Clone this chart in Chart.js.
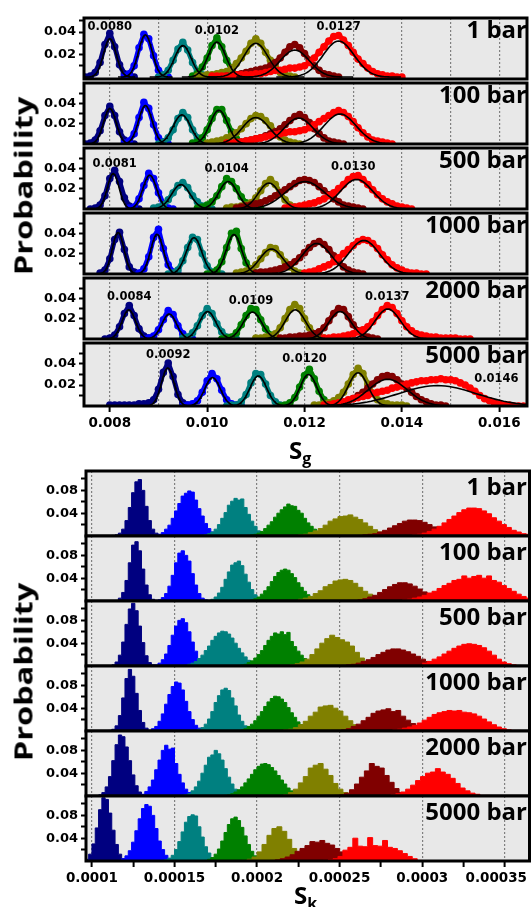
<!DOCTYPE html>
<html>
<head>
<meta charset="utf-8">
<script src="https://cdn.jsdelivr.net/npm/chart.js@4.4.1/dist/chart.umd.min.js"></script>
<style>
  html, body { margin: 0; padding: 0; background: #fff; overflow: hidden; }
  #fig { position: relative; width: 531px; height: 907px; }
  #fig canvas { position: absolute; left: 0; }
  .press { position: absolute; right: 4px; font: bold 24px/24px 'Open Sans', sans-serif; color: #000; white-space: nowrap; }
  .ytitle { position: absolute; left: 23px; font: bold 25px/25px 'Open Sans', sans-serif; white-space: nowrap;
            transform: translate(-50%, -50%) rotate(-90deg) scaleX(1.3); }
  .xtitle { position: absolute; font: bold 24px/24px 'Open Sans', sans-serif; white-space: nowrap; }
  .xtitle sub { font-size: 16px; vertical-align: -5px; }
</style>
</head>
<body>
<div id="fig"></div>
<script>
const pressures = ['1 bar', '100 bar', '500 bar', '1000 bar', '2000 bar', '5000 bar'];
const seriesColors = ['#000080', '#0000ff', '#008080', '#008000', '#808000', '#800000', '#ff0000'];

// ---- S_g panel: Gaussian fits (one row per pressure, one entry per colour)
const sgFitMean = [
  [0.00800, 0.00873, 0.00950, 0.01020, 0.01100, 0.01180, 0.01270],
  [0.00800, 0.00873, 0.00948, 0.01024, 0.01100, 0.01188, 0.01273],
  [0.00807, 0.00882, 0.00946, 0.01043, 0.01127, 0.01201, 0.01307],
  [0.00817, 0.00897, 0.00973, 0.01055, 0.01132, 0.01225, 0.01322],
  [0.00839, 0.00922, 0.01001, 0.01093, 0.01181, 0.01273, 0.01371],
  [0.00919, 0.01011, 0.01105, 0.01208, 0.01310, 0.01371, 0.01473]
];
const sgFitSigma = [
  [0.00013, 0.00014, 0.00017, 0.00018, 0.00025, 0.00030, 0.00032],
  [0.00013, 0.00014, 0.00018, 0.00018, 0.00028, 0.00030, 0.00033],
  [0.00012, 0.00014, 0.00019, 0.00019, 0.00022, 0.00040, 0.00033],
  [0.00012, 0.00013, 0.00016, 0.00016, 0.00024, 0.00030, 0.00032],
  [0.00014, 0.00015, 0.00017, 0.00019, 0.00021, 0.00023, 0.00026],
  [0.00013, 0.00016, 0.00017, 0.00017, 0.00020, 0.00040, 0.00080]
];
const sgFitPeak = [
  [0.0340, 0.0375, 0.0280, 0.0310, 0.0300, 0.0240, 0.0320],
  [0.0348, 0.0378, 0.0286, 0.0332, 0.0260, 0.0255, 0.0295],
  [0.0348, 0.0332, 0.0240, 0.0270, 0.0255, 0.0270, 0.0290],
  [0.0408, 0.0390, 0.0357, 0.0387, 0.0246, 0.0300, 0.0330],
  [0.0286, 0.0246, 0.0270, 0.0264, 0.0286, 0.0270, 0.0295],
  [0.0362, 0.0270, 0.0286, 0.0300, 0.0316, 0.0255, 0.0194]
];

// ---- S_g scatter: first bin in units of 1e-4 (bins 1e-4 apart), probabilities in units of 1e-3
const sgDotStart = [
  [75, 83, 90, 97, 98, 104, 101],
  [75, 83, 90, 97, 100, 106, 104],
  [76, 84, 89, 98, 104, 106, 116],
  [78, 86, 92, 100, 106, 110, 120],
  [79, 87, 95, 103, 110, 115, 124],
  [80, 95, 104, 115, 122, 125, 124]
];
const sgDotProb = [
  [
    [0,1,4,13,29,39,27,11,3,1,0],
    [1,3,10,26,38,34,19,6,2,0],
    [0,2,6,15,25,31,24,13,5,2,0],
    [1,3,9,17,28,35,27,15,7,2,1],
    [1,1,2,2,3,4,5,8,12,17,23,30,34,30,22,15,9,4,2,1,0],
    [1,1,2,3,4,5,6,7,8,10,13,17,22,27,29,26,21,15,10,6,3,2,1,0],
    [1,1,1,1,1,2,2,2,2,3,3,4,5,6,6,7,8,8,9,10,13,17,22,27,32,36,37,33,28,22,16,12,8,5,3,2,1,1,0,0]
  ],
  [
    [0,1,4,13,28,37,28,12,4,1,0],
    [1,3,10,26,41,35,19,6,2,0],
    [0,2,6,14,25,31,26,14,6,2,0],
    [1,2,6,14,25,34,34,23,12,5,1],
    [1,2,3,4,6,8,11,15,20,25,28,27,23,18,12,7,4,2,1,0],
    [1,2,3,4,5,6,8,10,12,15,19,23,27,29,26,21,15,10,6,3,2,1,0],
    [1,1,2,2,3,4,5,6,7,8,9,10,11,12,12,13,14,16,19,22,25,28,31,33,31,27,22,16,11,7,4,3,2,1,0]
  ],
  [
    [0,1,4,13,30,38,27,11,3,1,0],
    [1,2,10,23,35,30,16,5,1,0],
    [1,2,4,9,16,23,26,21,13,7,3,1,0],
    [1,2,4,7,13,22,30,27,20,12,6,3,1,0],
    [1,2,2,3,4,6,11,18,25,29,24,16,9,4,2,1,0],
    [1,2,3,4,5,6,8,10,13,16,19,22,25,28,29,28,26,22,18,14,10,7,4,3,2,1,0],
    [1,2,2,3,4,5,6,8,10,13,16,20,24,29,32,33,29,24,19,14,10,7,5,3,2,1,0]
  ],
  [
    [1,4,15,34,41,24,7,2,0],
    [1,5,17,36,44,25,9,2,0],
    [0,1,4,13,26,36,34,20,8,2,1,0],
    [0,1,4,12,26,40,42,25,11,4,1,0],
    [1,2,3,5,9,15,21,26,25,19,12,7,3,1,0],
    [1,2,2,3,4,5,7,9,12,16,21,26,30,32,29,24,18,12,7,4,2,1,0],
    [1,2,3,5,7,9,12,16,20,24,28,32,34,33,30,25,19,14,9,6,4,2,1,1,0,0]
  ],
  [
    [0,1,4,12,25,33,23,10,3,1,0],
    [0,1,3,9,19,28,24,13,5,1,0],
    [1,2,6,13,23,30,25,15,7,2,1,0],
    [0,1,2,6,14,23,30,29,19,10,4,1,0],
    [1,1,2,3,5,11,20,29,34,30,20,11,5,2,1,0],
    [1,1,2,2,3,3,4,5,7,11,18,25,30,29,22,14,8,4,2,1,0],
    [1,1,2,2,3,4,5,7,9,12,17,23,29,33,31,25,18,12,8,5,4,3,2,2,1,1,1,1,0,0,0]
  ],
  [
    [1,1,1,1,1,1,2,2,3,6,16,32,41,28,11,3,1,0],
    [0,1,2,5,13,24,31,26,15,6,2,1,0],
    [0,1,1,4,11,22,31,30,21,10,4,1,0],
    [0,1,3,8,18,29,35,26,14,6,2,1,0],
    [1,1,2,3,5,8,13,21,30,36,31,21,12,6,3,2,1,1,1,0],
    [1,1,2,3,5,7,10,13,17,21,25,28,29,28,25,21,17,13,9,6,4,2,1,1,0],
    [1,1,2,3,4,6,7,8,9,10,12,13,14,15,17,18,19,21,22,23,24,24,25,25,26,25,25,24,22,20,17,14,10,7,5,3,2,1,1,0,0,0]
  ]
];

// peak positions printed inside the S_g rows: [text, x, y]
const sgNotes = [
  [['0.0080', 0.0080, 0.0444], ['0.0102', 0.0102, 0.0410], ['0.0127', 0.0127, 0.0444]],
  [],
  [['0.0081', 0.0081, 0.0443], ['0.0104', 0.0104, 0.0396], ['0.0130', 0.0130, 0.0415]],
  [],
  [['0.0084', 0.0084, 0.0415], ['0.0109', 0.0109, 0.0378], ['0.0137', 0.0137, 0.0415]],
  [['0.0092', 0.0092, 0.0489], ['0.0120', 0.0120, 0.0452], ['0.0146', 0.01594, 0.0258]]
];

const sgXRange = [0.00747, 0.01657];
const sgXTicks = [0.008, 0.009, 0.010, 0.011, 0.012, 0.013, 0.014, 0.015, 0.016];
const sgXLabels = ['0.008', '', '0.010', '', '0.012', '', '0.014', '', '0.016'];
const sgYRange = [[-0.0017, 0.0525], [0, 0.06], [0, 0.06], [0, 0.06], [0, 0.06], [0, 0.06]];
const sgYTicks = [0.01, 0.02, 0.03, 0.04, 0.05];
const sgYLabels = ['', '0.02', '', '0.04', ''];

// ---- S_k panel: histograms, first bin edge and bin width in units of 1e-6, probabilities in units of 1e-3
const skBinWidth = [2, 2, 2, 2, 3, 3, 3];
const skBinStart = [
  [112, 138, 166, 194, 222, 261, 291],
  [112, 138, 168, 194, 219, 255, 282],
  [112, 136, 156, 188, 217, 251, 300],
  [110, 134, 162, 186, 213, 245, 282],
  [104, 128, 154, 180, 213, 247, 278],
  [96, 116, 142, 166, 191, 205, 240]
];
const skBinProb = [
  [
    [1,2,5,12,27,50,76,95,99,80,52,27,12,5,2,1],
    [1,3,6,12,19,31,44,57,70,75,79,77,63,48,35,22,13,7,4,2,1],
    [1,2,4,7,12,20,31,41,54,61,66,63,65,50,38,26,17,9,5,3,1,0],
    [1,2,3,5,8,13,19,25,33,40,46,51,56,53,52,45,40,31,23,17,12,7,5,3,1,1],
    [1,2,3,6,9,13,19,26,30,34,35,37,33,29,23,17,11,7,4,2,1,0],
    [1,2,3,4,7,10,14,18,22,26,28,28,27,24,20,16,11,8,5,3,2,1],
    [1,2,3,5,8,12,17,23,29,35,41,46,49,49,48,44,39,32,26,20,15,10,7,4,3]
  ],
  [
    [0,1,5,15,36,67,98,104,88,56,28,11,3,1],
    [1,2,6,13,26,45,67,84,88,80,70,48,28,13,5,2,1],
    [0,1,3,7,14,24,38,51,63,67,70,62,47,33,20,11,5,2,1,0],
    [1,2,4,7,12,18,25,34,43,50,54,56,54,48,41,32,24,17,11,6,4,2,1],
    [1,1,3,5,8,13,18,25,29,35,37,38,36,31,24,17,12,8,5,3,1,1],
    [1,1,2,4,7,10,15,20,25,29,32,32,30,26,21,16,12,8,5,3,1,1],
    [1,1,2,3,5,7,10,14,17,22,27,31,36,38,44,40,43,45,40,44,36,33,27,22,17,12,8,5]
  ],
  [
    [2,7,19,42,73,100,110,97,70,41,18,6,2,1],
    [1,2,5,11,21,36,54,70,80,83,76,60,42,26,13,6,3,1],
    [1,3,5,8,13,19,27,35,45,52,58,61,60,56,49,40,31,23,16,10,6,4,2,1],
    [1,2,3,6,9,14,20,27,36,45,52,58,56,60,55,59,43,34,26,19,13,8,5,3,2,1],
    [1,2,4,7,12,20,30,40,48,54,50,46,42,35,24,14,8,4,2,1],
    [1,2,3,5,8,11,15,20,24,28,30,30,28,25,21,17,12,8,5,3,2,1],
    [5,8,12,16,21,26,31,35,38,39,38,36,32,26,19,12,7,4,2,1]
  ],
  [
    [1,3,9,27,58,92,108,96,66,36,15,5,1],
    [1,4,8,17,30,47,64,78,86,84,72,52,34,20,10,5,2,1],
    [1,3,6,12,21,34,50,62,72,75,71,58,44,28,17,9,4,2,1],
    [1,1,2,4,8,12,18,26,34,43,51,57,61,60,56,50,41,32,24,16,11,7,4,2,1,1],
    [1,2,3,6,11,17,26,33,42,44,45,40,35,26,18,11,6,3,2,1],
    [1,1,2,4,8,12,18,24,31,35,37,39,34,36,26,19,13,9,5,3,2,1],
    [2,3,5,7,10,14,19,24,29,32,34,36,35,36,33,32,30,26,21,16,11,7,4,2,1,1]
  ],
  [
    [2,6,16,34,62,90,107,104,86,62,37,18,7,2,1],
    [1,3,8,16,28,46,63,80,89,82,84,57,38,23,12,6,2,1],
    [1,2,4,9,16,26,40,54,68,72,80,74,63,48,33,21,12,6,3,1,0],
    [1,2,4,7,11,16,23,30,38,46,52,56,57,55,50,44,36,28,21,14,9,6,4,2,1],
    [1,2,6,12,23,34,49,54,57,47,36,22,12,6,2,1],
    [1,2,5,11,21,33,44,57,52,49,36,24,13,6,3,1],
    [1,2,4,7,12,19,27,34,40,42,48,42,38,31,22,14,9,5,3,1,1]
  ],
  [
    [3,12,30,58,90,111,108,84,54,29,12,4,1],
    [1,4,9,18,33,53,74,92,99,96,80,57,35,20,10,4,1],
    [1,2,5,10,20,34,51,68,78,81,79,60,42,25,14,6,3,1,0],
    [0,1,3,6,12,21,35,50,64,74,77,71,59,44,29,17,9,4,2,1,0],
    [1,3,7,16,29,45,57,60,52,38,22,11,5,2,0],
    [0,1,2,4,7,11,17,22,27,34,33,36,31,28,22,16,11,7,4,2,1,0],
    [1,2,4,8,19,24,40,26,25,41,27,26,36,24,22,18,13,8,4,1]
  ]
];

const skXRange = [0.0000964, 0.000365];
const skXTicks = [0.0001, 0.000125, 0.00015, 0.000175, 0.0002, 0.000225, 0.00025, 0.000275, 0.0003, 0.000325, 0.00035];
const skXLabels = ['0.0001', '', '0.00015', '', '0.0002', '', '0.00025', '', '0.0003', '', '0.00035'];
const skYRange = [0, 0.114];
const skYTicks = [0.02, 0.04, 0.06, 0.08, 0.10];
const skYLabels = ['', '0.04', '', '0.08', ''];

// ---- layout
const ROW_H = 65;
const PAD = 2;
const AXIS_H = 36;
const SG_TOP = 16, SK_TOP = 471;
const SG_LEFT = 84, SK_LEFT = 86;

Chart.defaults.font.family = "'DejaVu Sans', sans-serif";
Chart.defaults.font.weight = 'bold';
Chart.defaults.color = '#000';

const fig = document.getElementById('fig');

function fitCurve(mu, sd, peak) {
  const pts = [];
  for (let i = 0; i <= 80; i++) {
    const x = mu - 4 * sd + i * sd / 10;
    pts.push({ x, y: peak * Math.exp(-0.5 * ((x - mu) / sd) ** 2) });
  }
  return pts;
}

// grey plot area, black frame, peak notes and (bottom row only) x tick labels
function panelDecor(o) {
  return {
    id: 'panelDecor',
    beforeDraw(chart) {
      const { ctx, chartArea: a } = chart;
      ctx.save();
      ctx.fillStyle = '#e8e8e8';
      ctx.fillRect(a.left, a.top, a.right - a.left, a.bottom - a.top);
      ctx.restore();
    },
    afterDraw(chart) {
      const { ctx, chartArea: a } = chart;
      const xs = chart.scales.x, ys = chart.scales.y;
      ctx.save();
      ctx.fillStyle = '#000';
      ctx.textAlign = 'center';
      ctx.textBaseline = 'middle';
      ctx.font = "bold 11.5px 'DejaVu Sans'";
      (o.notes || []).forEach(([t, x, y]) => {
        ctx.fillText(t, xs.getPixelForValue(x), ys.getPixelForValue(y));
      });
      if (o.last) {
        ctx.font = "bold 13.5px 'DejaVu Sans'";
        o.xTicks.forEach((v, i) => {
          const t = o.xLabels[i];
          if (!t) return;
          const w = ctx.measureText(t).width;
          const px = Math.min(xs.getPixelForValue(v), chart.width - 4 - w / 2);
          ctx.fillText(t, px, a.bottom + 17);
        });
      }
      ctx.lineWidth = 3;
      ctx.strokeStyle = '#000';
      ctx.strokeRect(a.left, a.top, a.right - a.left, a.bottom - a.top);
      ctx.restore();
    }
  };
}

function makeRow(o) {
  const canvas = document.createElement('canvas');
  const h = PAD + ROW_H + (o.last ? AXIS_H : PAD);
  canvas.width = 531;
  canvas.height = h;
  canvas.style.top = (o.top - PAD) + 'px';
  canvas.style.width = '531px';
  canvas.style.height = h + 'px';
  fig.appendChild(canvas);

  new Chart(canvas, {
    type: 'line',
    data: { datasets: o.datasets },
    plugins: [panelDecor(o)],
    options: {
      responsive: false,
      animation: false,
      devicePixelRatio: 1,
      layout: { padding: { top: PAD, bottom: o.last ? 0 : PAD, left: 0, right: 1.5 } },
      plugins: { legend: { display: false }, tooltip: { enabled: false } },
      scales: {
        x: {
          type: 'linear',
          min: o.xRange[0],
          max: o.xRange[1],
          afterBuildTicks: s => { s.ticks = o.xTicks.map(v => ({ value: v })); },
          afterFit: s => { s.height = o.last ? AXIS_H : 0; s.paddingLeft = 0; s.paddingRight = 0; },
          ticks: { display: false },
          border: { display: false, dash: [2, 2] },
          grid: {
            color: c => (o.gridAll || o.xLabels[c.index]) ? '#808080' : 'rgba(0,0,0,0)',
            lineWidth: 1.2,
            drawTicks: !!o.last,
            tickLength: 6,
            tickWidth: 2,
            tickColor: c => (o.minorTicks || o.xLabels[c.index]) ? '#000' : 'rgba(0,0,0,0)'
          }
        },
        y: {
          min: o.yRange[0],
          max: o.yRange[1],
          afterBuildTicks: s => { s.ticks = o.yTicks.map(v => ({ value: v })); },
          afterFit: s => { s.width = o.left; s.paddingTop = 0; s.paddingBottom = 0; },
          ticks: {
            autoSkip: false,
            padding: 3,
            color: '#000',
            font: { size: 13, weight: 'bold' },
            callback: (v, i) => o.yLabels[i]
          },
          border: { display: false },
          grid: { drawOnChartArea: false, tickLength: 5, tickWidth: 2, tickColor: '#000' }
        }
      }
    }
  });
}

function addText(cls, html, left, top) {
  const d = document.createElement('div');
  d.className = cls;
  d.innerHTML = html;
  if (left !== null) d.style.left = left + 'px';
  d.style.top = top + 'px';
  fig.appendChild(d);
}

// S_g rows: scatter of the sampled distribution plus its Gaussian fit
pressures.forEach((name, r) => {
  const datasets = [];
  seriesColors.forEach((col, k) => {
    const start = sgDotStart[r][k];
    datasets.push({
      data: sgDotProb[r][k].map((p, i) => ({ x: (start + i) * 1e-4, y: p / 1000 })),
      showLine: true,
      borderColor: col,
      borderWidth: 5,
      borderJoinStyle: 'round',
      borderCapStyle: 'round',
      pointRadius: 3.8,
      pointBackgroundColor: col,
      pointBorderWidth: 0,
      order: 20 - k
    });
    datasets.push({
      data: fitCurve(sgFitMean[r][k], sgFitSigma[r][k], sgFitPeak[r][k]),
      borderColor: '#000',
      borderWidth: 1.6,
      pointRadius: 0,
      order: 0
    });
  });
  const top = SG_TOP + r * ROW_H;
  makeRow({
    top, left: SG_LEFT, datasets, last: r === pressures.length - 1,
    xRange: sgXRange, xTicks: sgXTicks, xLabels: sgXLabels, gridAll: true, minorTicks: false,
    yRange: sgYRange[r], yTicks: sgYTicks, yLabels: sgYLabels, notes: sgNotes[r]
  });
  addText('press', name, null, top + 1);
});

// S_k rows: filled step histograms
pressures.forEach((name, r) => {
  const datasets = [];
  seriesColors.forEach((col, k) => {
    const start = skBinStart[r][k], bw = skBinWidth[k];
    const probs = skBinProb[r][k];
    const pts = probs.map((p, i) => ({ x: (start + i * bw) * 1e-6, y: p / 1000 }));
    pts.push({ x: (start + probs.length * bw) * 1e-6, y: 0 });
    datasets.push({
      data: pts,
      stepped: true,
      fill: 'origin',
      backgroundColor: col,
      borderColor: col,
      borderWidth: 1,
      pointRadius: 0,
      order: 20 - k
    });
  });
  const top = SK_TOP + r * ROW_H;
  makeRow({
    top, left: SK_LEFT, datasets, last: r === pressures.length - 1,
    xRange: skXRange, xTicks: skXTicks, xLabels: skXLabels, gridAll: false, minorTicks: true,
    yRange: skYRange, yTicks: skYTicks, yLabels: skYLabels, notes: []
  });
  addText('press', name, null, top + 3);
});

addText('ytitle', 'Probability', null, 186);
addText('ytitle', 'Probability', null, 672);
addText('xtitle', 'S<sub>g</sub>', 289, 438);
addText('xtitle', 'S<sub>k</sub>', 294, 883);
</script>
</body>
</html>
